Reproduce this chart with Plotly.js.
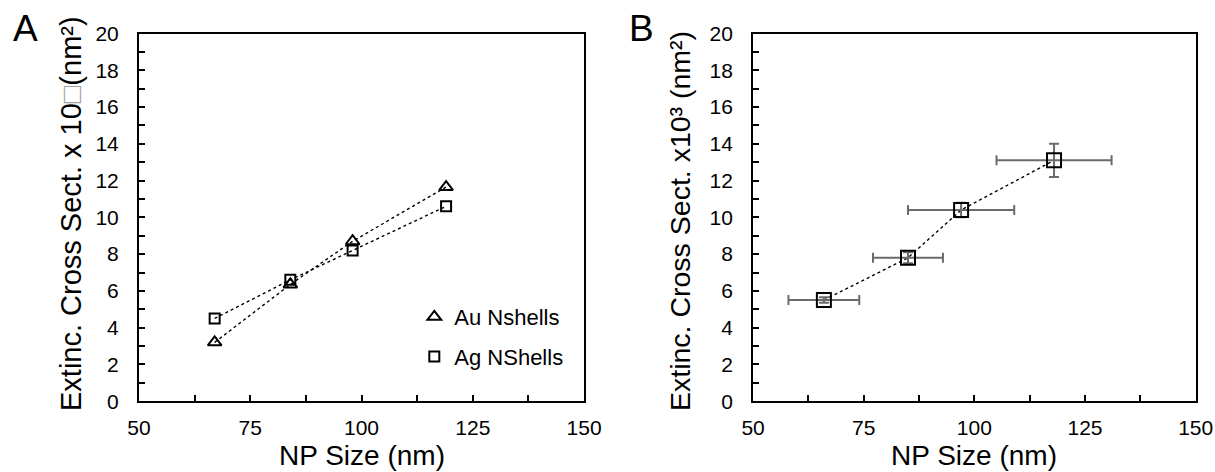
<!DOCTYPE html>
<html>
<head>
<meta charset="utf-8">
<script src="https://cdn.plot.ly/plotly-3.0.1.min.js"></script>
<style>
  html, body { margin: 0; padding: 0; background: #fff; }
  #chart { width: 1215px; height: 472px; }
</style>
</head>
<body>
<div id="chart"></div>
<script>
// Panel A: extinction cross section vs. nanoshell size
const auSize = [67, 84, 98, 119];
const auExt  = [3.2, 6.35, 8.7, 11.65];
const agSize = [67, 84, 98, 119];
const agExt  = [4.5, 6.6, 8.2, 10.6];

// Panel B: measured cross section with size / value spread
const npSize  = [66, 85, 97, 118];
const npExt   = [5.5, 7.8, 10.4, 13.1];
const sizeErr = [8, 7.9, 12, 13];
const extErr  = [0.15, 0.3, 0.4, 0.9];

const xTicks = [50, 75, 100, 125, 150];
const yTicks = [0, 2, 4, 6, 8, 10, 12, 14, 16, 18, 20];

const FONT = 'Liberation Sans, Arial, sans-serif';

const dotLine = { color: '#000', width: 1.4, dash: 'dot' };

const traces = [
  // connecting lines (panel A)
  { x: auSize, y: auExt, mode: 'lines', line: dotLine, showlegend: false, xaxis: 'x', yaxis: 'y', hoverinfo: 'skip' },
  { x: agSize, y: agExt, mode: 'lines', line: dotLine, showlegend: false, xaxis: 'x', yaxis: 'y', hoverinfo: 'skip' },
  // markers (panel A)
  { x: auSize, y: auExt, mode: 'markers', name: 'Au Nshells', legendgroup: 'au',
    marker: { symbol: 'triangle-up-open', size: 12, color: '#000', line: { width: 2, color: '#000' } },
    xaxis: 'x', yaxis: 'y' },
  { x: agSize, y: agExt, mode: 'markers', name: 'Ag NShells', legendgroup: 'ag',
    marker: { symbol: 'square-open', size: 10, color: '#000', line: { width: 2, color: '#000' } },
    xaxis: 'x', yaxis: 'y' },
  // panel B
  { x: npSize, y: npExt, mode: 'lines', line: dotLine, showlegend: false, xaxis: 'x2', yaxis: 'y2', hoverinfo: 'skip' },
  { x: npSize, y: npExt, mode: 'markers', showlegend: false,
    marker: { symbol: 'square-open', size: 14, color: '#000', line: { width: 2, color: '#000' } },
    error_x: { type: 'data', array: sizeErr, visible: true, color: '#6b6b6b', thickness: 2, width: 5 },
    error_y: { type: 'data', array: extErr, visible: true, color: '#6b6b6b', thickness: 2, width: 5 },
    xaxis: 'x2', yaxis: 'y2' }
];

function xAxis(domain, anchor) {
  return {
    domain: domain, anchor: anchor, range: [50, 150],
    tickmode: 'array', tickvals: xTicks, ticktext: xTicks.map(String),
    ticks: 'inside', ticklen: 6, tickwidth: 2, tickcolor: '#000',
    minor: { tickmode: 'linear', tick0: 50, dtick: 12.5, ticks: 'inside', ticklen: 6, tickwidth: 2, tickcolor: '#000', showgrid: false },
    showline: true, linecolor: '#000', linewidth: 2, mirror: true,
    showgrid: false, zeroline: false,
    ticklabelstandoff: 7,
    tickfont: { family: FONT, size: 21, color: '#000' }
  };
}
function yAxis(domain, anchor) {
  return {
    domain: domain, anchor: anchor, range: [0, 20],
    tickmode: 'array', tickvals: yTicks, ticktext: yTicks.map(String),
    ticks: 'inside', ticklen: 6, tickwidth: 2, tickcolor: '#000',
    minor: { tickmode: 'linear', tick0: 0, dtick: 1, ticks: 'inside', ticklen: 6, tickwidth: 2, tickcolor: '#000', showgrid: false },
    showline: true, linecolor: '#000', linewidth: 2, mirror: true,
    showgrid: false, zeroline: false,
    ticklabelstandoff: 14,
    tickfont: { family: FONT, size: 21, color: '#000' }
  };
}

const yDom = [0.150, 0.929];

const layout = {
  width: 1215, height: 472,
  margin: { l: 0, r: 0, t: 0, b: 0 },
  paper_bgcolor: '#fff', plot_bgcolor: '#fff',
  font: { family: FONT, color: '#000' },
  xaxis: xAxis([0.1144, 0.4807], 'y'),
  yaxis: yAxis(yDom, 'x'),
  xaxis2: xAxis([0.6198, 0.9841], 'y2'),
  yaxis2: yAxis(yDom, 'x2'),
  showlegend: true,
  legend: {
    x: 0.341, y: 0.286, xanchor: 'left', yanchor: 'middle',
    bgcolor: 'rgba(0,0,0,0)', borderwidth: 0,
    font: { family: FONT, size: 22, color: '#000' },
    traceorder: 'grouped', tracegroupgap: 8, itemwidth: 30
  },
  annotations: [
    { text: 'A', xref: 'paper', yref: 'paper', x: 25 / 1215, y: 1 - 29 / 472, showarrow: false,
      font: { family: FONT, size: 37, color: '#000' }, xanchor: 'center', yanchor: 'middle' },
    { text: 'B', xref: 'paper', yref: 'paper', x: 642 / 1215, y: 1 - 29 / 472, showarrow: false,
      font: { family: FONT, size: 37, color: '#000' }, xanchor: 'center', yanchor: 'middle' },
    { text: 'Extinc. Cross Sect. x 10<span style="color:#a0a0a0">\u25A1</span>(nm\u00B2)',
      xref: 'paper', yref: 'paper', x: 71 / 1215, y: 1 - 214 / 472, textangle: -90, showarrow: false,
      font: { family: FONT, size: 29, color: '#000' }, xanchor: 'center', yanchor: 'middle' },
    { text: 'Extinc. Cross Sect. x10\u00B3 (nm\u00B2)',
      xref: 'paper', yref: 'paper', x: 680 / 1215, y: 1 - 221 / 472, textangle: -90, showarrow: false,
      font: { family: FONT, size: 28.5, color: '#000' }, xanchor: 'center', yanchor: 'middle' },
    { text: 'NP Size (nm)', xref: 'paper', yref: 'paper', x: 361.5 / 1215, y: 1 - 455 / 472, showarrow: false,
      font: { family: FONT, size: 28, color: '#000' }, xanchor: 'center', yanchor: 'middle' },
    { text: 'NP Size (nm)', xref: 'paper', yref: 'paper', x: 974 / 1215, y: 1 - 455 / 472, showarrow: false,
      font: { family: FONT, size: 28, color: '#000' }, xanchor: 'center', yanchor: 'middle' }
  ]
};

Plotly.newPlot('chart', traces, layout, { staticPlot: true, displayModeBar: false });
</script>
</body>
</html>
